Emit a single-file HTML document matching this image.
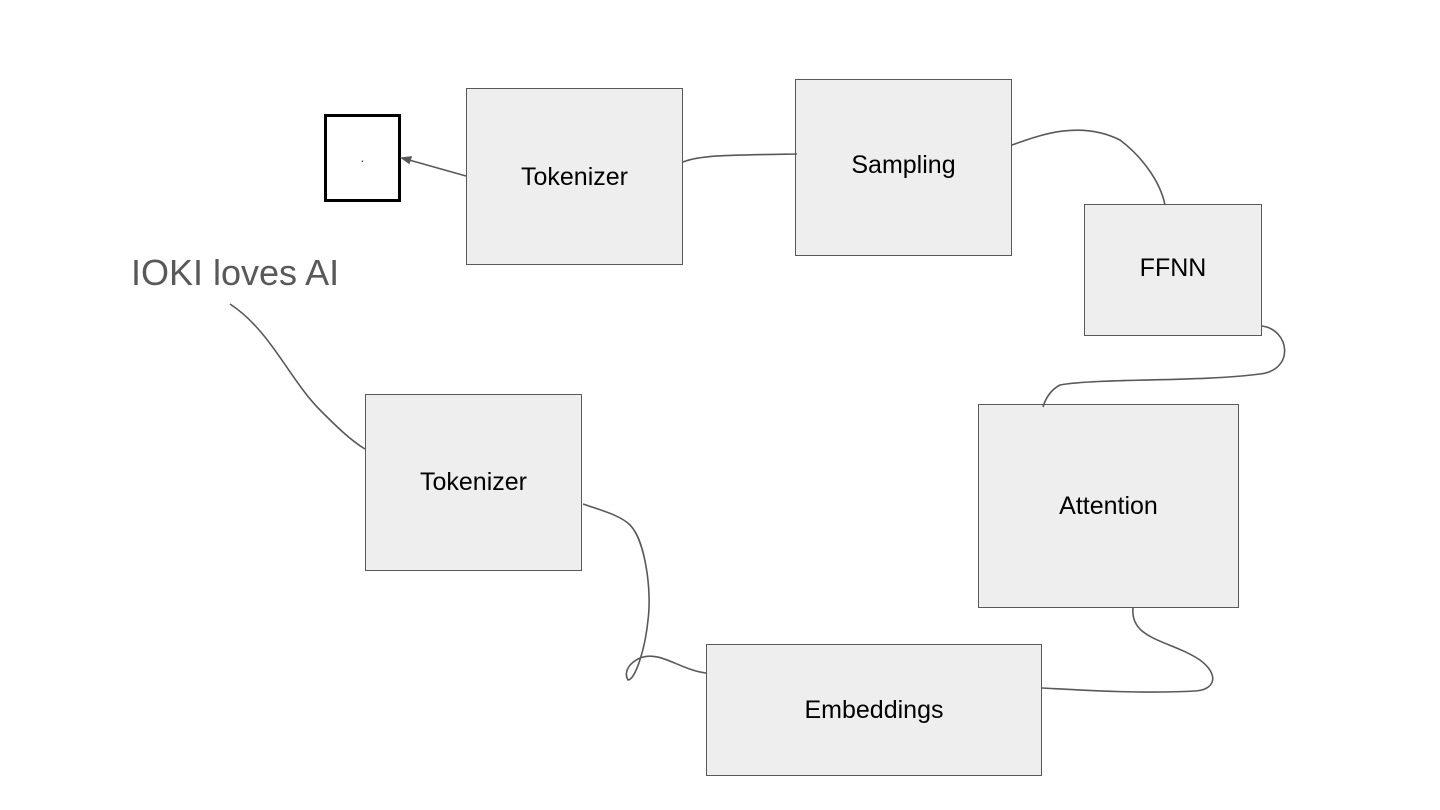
<!DOCTYPE html>
<html><head><style>
body{margin:0;width:1440px;height:810px;background:#fff;overflow:hidden;position:relative;font-family:"Liberation Sans",Arial,sans-serif}
.b{position:absolute;background:#eeeeee;border:1.5px solid #595959;box-sizing:border-box;display:flex;align-items:center;justify-content:center;font-size:25px;color:#000}
svg{position:absolute;left:0;top:0}
</style></head><body>
<div class="b" style="left:466px;top:88px;width:217px;height:177px;padding-top:1px">Tokenizer</div>
<div class="b" style="left:795px;top:79px;width:217px;height:177px;padding-bottom:4px">Sampling</div>
<div class="b" style="left:1084px;top:204px;width:178px;height:132px;padding-bottom:4px">FFNN</div>
<div class="b" style="left:978px;top:404px;width:261px;height:204px">Attention</div>
<div class="b" style="left:706px;top:644px;width:336px;height:132px">Embeddings</div>
<div class="b" style="left:365px;top:394px;width:217px;height:177px">Tokenizer</div>
<div style="position:absolute;left:324px;top:114px;width:77px;height:88px;border:3px solid #000;box-sizing:border-box;font-size:14px;text-align:center;line-height:80px;color:#444">.</div>
<div style="position:absolute;left:131px;top:252px;font-size:36px;color:#595959">IOKI loves AI</div>
<svg width="1440" height="810" fill="none" stroke="#595959" stroke-width="1.6">
<path d="M466 176 L402 158"/><path d="M402 158 L411 157 L409 163 Z" fill="#595959"/>
<path d="M683 162 C700 155 730 155 797 154"/>
<path d="M1012 145 C1040 135 1080 120 1120 140 C1140 155 1160 180 1165 205"/>
<path d="M1262 326 C1290 330 1295 370 1260 374 C1200 382 1100 378 1060 385 C1050 390 1045 400 1043 407"/>
<path d="M1133 608 C1130 640 1170 640 1200 660 C1220 675 1215 690 1195 691 C1140 694 1080 690 1042 688"/>
<path d="M583 504 C600 510 620 515 630 525 C645 540 652 590 648 620 C645 650 635 680 628 680 C625 675 625 665 640 658 C660 650 680 670 706 673"/>
<path d="M230 304 C270 330 290 380 320 410 C335 425 350 440 365 449"/>
</svg>
</body></html>
